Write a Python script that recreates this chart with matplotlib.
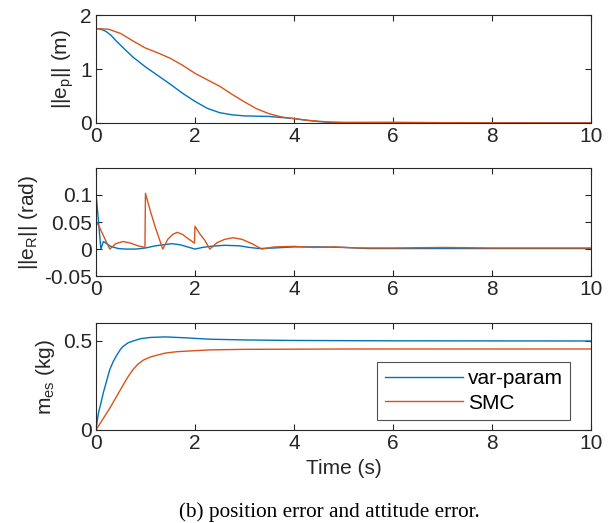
import matplotlib.pyplot as plt

plt.rcParams["font.family"] = ["Liberation Sans", "DejaVu Sans"]
plt.rcParams["mathtext.fontset"] = "custom"
plt.rcParams["mathtext.rm"] = "Liberation Sans"

BLUE = "#0072BD"
ORANGE = "#D95319"

# position error ||e_p||
tp_var = [0, 0.1, 0.2, 0.3, 0.4, 0.5, 0.6, 0.75, 1.0, 1.25, 1.5, 1.75, 2.0, 2.25, 2.5,
          2.75, 3.0, 3.5, 4.0, 4.25, 4.5, 4.75, 5.0, 6.0, 8.0, 10.0]
ep_var = [1.75, 1.74, 1.70, 1.63, 1.53, 1.44, 1.35, 1.22, 1.04, 0.88, 0.72, 0.55, 0.40,
          0.27, 0.19, 0.15, 0.13, 0.12, 0.08, 0.05, 0.025, 0.01, 0.005, 0.002, 0.001, 0.0]
tp_smc = [0, 0.25, 0.5, 0.75, 1.0, 1.25, 1.5, 1.75, 2.0, 2.25, 2.5, 2.75, 3.0, 3.25,
          3.5, 3.75, 4.0, 4.25, 4.5, 4.75, 5.0, 6.0, 7.0, 8.0, 10.0]
ep_smc = [1.75, 1.74, 1.66, 1.52, 1.39, 1.30, 1.20, 1.07, 0.92, 0.80, 0.68, 0.53, 0.39,
          0.26, 0.17, 0.11, 0.08, 0.05, 0.03, 0.015, 0.01, 0.012, 0.005, 0.002, 0.0]

# attitude error ||e_R||
tr_var = [0, 0.002, 0.1, 0.15, 0.2, 0.3, 0.45, 0.6, 0.8, 1.0, 1.2, 1.53, 1.7, 1.85,
          2.0, 2.15, 2.3, 2.6, 2.9, 3.1, 3.3, 3.6, 4.0, 4.5, 5.0, 5.5, 6, 7, 8, 9, 10]
er_var = [0, 0.103, 0.0, 0.014, 0.011, 0.005, 0.001, 0.0, 0.0, 0.002, 0.006, 0.010,
          0.008, 0.004, 0.0, 0.003, 0.005, 0.007, 0.006, 0.003, 0.001, 0.002, 0.004,
          0.004, 0.003, 0.001, 0.001, 0.001, 0.001, 0.001, 0.001]
tr_smc = [0, 0.003, 0.1, 0.2, 0.28, 0.4, 0.55, 0.7, 0.85, 0.99, 1.0, 1.1, 1.2, 1.35,
          1.45, 1.55, 1.64, 1.75, 1.85, 1.99, 2.0, 2.1, 2.2, 2.3, 2.45, 2.6, 2.77,
          2.95, 3.15, 3.35, 3.6, 4.0, 4.4, 4.8, 5.3, 6, 7, 8, 9, 10]
er_smc = [0, 0.052, 0.035, 0.015, 0.0, 0.01, 0.014, 0.011, 0.006, 0.003, 0.103, 0.07,
          0.04, 0.0, 0.018, 0.027, 0.031, 0.027, 0.02, 0.011, 0.042, 0.028,
          0.016, 0.0, 0.012, 0.018, 0.021, 0.018, 0.01, 0.0, 0.004, 0.005, 0.003,
          0.004, 0.002, 0.002, 0.003, 0.002, 0.002, 0.002]

# estimated mass m_es
tm_var = [0, 0.05, 0.1, 0.15, 0.2, 0.28, 0.35, 0.42, 0.5, 0.55, 0.65, 0.75, 0.9, 1.1,
          1.4, 1.8, 2.3, 3.0, 4.0, 6.0, 10.0]
m_var = [0, 0.095, 0.15, 0.21, 0.26, 0.34, 0.385, 0.42, 0.455, 0.47, 0.49, 0.50, 0.513,
         0.52, 0.523, 0.518, 0.51, 0.506, 0.503, 0.501, 0.5]
tm_smc = [0, 0.1, 0.2, 0.28, 0.4, 0.55, 0.65, 0.75, 0.85, 0.96, 1.1, 1.23, 1.4, 1.64,
          2.3, 3.0, 5.0, 10.0]
m_smc = [0, 0.043, 0.087, 0.122, 0.18, 0.253, 0.30, 0.34, 0.37, 0.393, 0.41, 0.42,
         0.432, 0.44, 0.45, 0.453, 0.455, 0.455]

fig = plt.figure(figsize=(6.15, 5.23), dpi=100)
L, W = 0.156, 0.805
ax1 = fig.add_axes([L, 0.765, W, 0.206])
ax2 = fig.add_axes([L, 0.472, W, 0.207])
ax3 = fig.add_axes([L, 0.178, W, 0.204])


def style(ax):
    ax.set_xlim(0, 10)
    ax.set_xticks([0, 2, 4, 6, 8, 10])
    ax.tick_params(direction="in", top=True, right=True, labelsize=15,
                   colors="#262626", length=4, width=0.8, pad=3)
    for s in ax.spines.values():
        s.set_color("#262626")
        s.set_linewidth(0.8)


ax1.plot(tp_var, ep_var, color=BLUE, lw=1.0)
ax1.plot(tp_smc, ep_smc, color=ORANGE, lw=1.0)
ax1.set_ylim(0, 2)
ax1.set_yticks([0, 1, 2])
ax1.set_ylabel(r"||e$_\mathregular{p}$|| (m)", fontsize=15, color="#262626", labelpad=3)
style(ax1)

ax2.plot(tr_var, er_var, color=BLUE, lw=1.0)
ax2.plot(tr_smc, er_smc, color=ORANGE, lw=1.0)
ax2.set_ylim(-0.05, 0.15)
ax2.set_yticks([-0.05, 0, 0.05, 0.1])
ax2.set_yticklabels(["-0.05", "0", "0.05", "0.1"])
ax2.set_ylabel(r"||e$_\mathregular{R}$|| (rad)", fontsize=15, color="#262626", labelpad=3)
style(ax2)

ax3.plot(tm_var, m_var, color=BLUE, lw=1.0, label="var-param")
ax3.plot(tm_smc, m_smc, color=ORANGE, lw=1.0, label="SMC")
ax3.set_ylim(0, 0.6)
ax3.set_yticks([0, 0.5])
ax3.set_yticklabels(["0", "0.5"])
ax3.set_ylabel(r"m$_\mathregular{es}$ (kg)", fontsize=15, color="#262626", labelpad=4)
ax3.set_xlabel("Time (s)", fontsize=15, color="#262626")
style(ax3)
leg = ax3.legend(loc="lower right", bbox_to_anchor=(0.958, 0.093), fontsize=15,
                 frameon=True, fancybox=False, edgecolor="#262626", handlelength=3.75,
                 borderpad=0.35, labelspacing=0.25, handletextpad=0.25,
                 borderaxespad=0)
leg.get_frame().set_linewidth(0.8)

fig.text(0.535, 0.021, "(b) position error and attitude error.", ha="center",
         va="center", fontsize=15.3, family=["Liberation Serif", "DejaVu Serif"])

fig.savefig("out.png", dpi=100)
